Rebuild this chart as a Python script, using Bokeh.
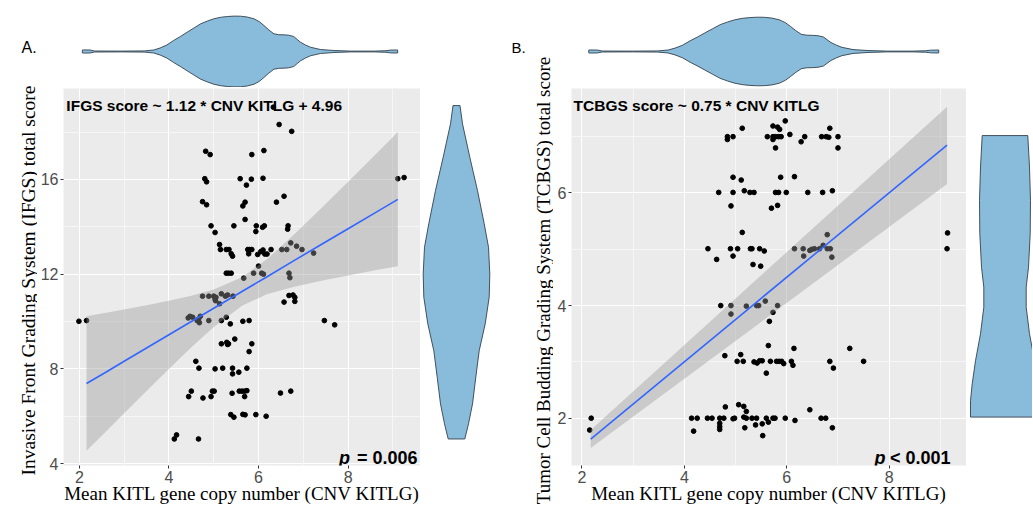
import numpy as np
from bokeh.plotting import figure
from bokeh.layouts import row, column
from bokeh.models import Range1d, FixedTicker, Label
from bokeh.embed import file_html
from bokeh.resources import INLINE

# ---------------- data ----------------
cnv_a = [6.33, 6.46, 6.74, 4.82, 4.92, 5.85, 6.12, 4.80, 4.84, 5.59, 5.73, 5.84, 6.10, 4.75, 4.84, 5.65,
         5.70, 6.40, 6.57, 4.94, 5.03, 5.45, 5.70, 5.95, 5.94, 6.09, 6.13, 6.66, 6.65, 5.13, 5.15, 5.28,
         5.34, 5.39, 5.42, 5.76, 5.80, 5.85, 5.78, 5.98, 6.05, 6.10, 6.14, 6.19, 6.28, 6.52, 6.63, 6.72,
         6.85, 6.97, 7.23, 9.11, 9.25, 5.28, 5.33, 5.39, 6.00, 5.89, 6.07, 6.11, 5.67, 6.68, 6.70,
         4.75, 4.89, 5.00, 5.03, 5.05, 5.04, 5.17, 5.26, 5.31, 5.13, 5.43, 6.57, 6.68, 6.77, 6.81, 6.81,
         4.43, 4.47, 4.53, 4.63, 4.68, 4.70, 4.66, 4.89, 5.17, 5.28, 5.37, 5.65, 5.79, 1.99, 2.16, 7.47,
         7.70, 5.17, 5.29, 5.31, 5.33, 5.47, 5.85, 5.79, 4.60, 4.67, 5.03, 5.20, 5.42, 5.42, 5.56, 5.74,
         4.50, 4.44, 4.76, 4.94, 4.97, 5.01, 5.41, 5.57, 5.63, 5.69, 5.74, 5.69, 6.49, 6.72, 5.38, 5.45,
         5.65, 5.70, 5.94, 6.17, 4.12, 4.17, 4.66]
ifgs = [19.05, 18.32, 18.03, 17.19, 17.05, 17.05, 17.22, 16.03, 15.90, 16.03, 15.76, 16.01, 16.05, 15.06,
        14.93, 14.88, 15.04, 15.04, 15.29, 14.04, 13.76, 14.04, 14.31, 14.04, 13.80, 13.98, 14.04, 14.04,
        13.90, 13.25, 13.04, 13.04, 13.04, 12.86, 12.76, 13.04, 13.04, 13.04, 12.86, 12.83, 12.95, 13.02,
        12.85, 12.85, 13.04, 13.04, 13.04, 13.32, 13.18, 13.04, 12.89, 16.03, 16.08, 12.04, 12.04, 12.04,
        12.34, 12.04, 12.04, 12.00, 11.83, 12.04, 11.85,
        11.07, 11.07, 11.07, 10.95, 11.02, 10.88, 11.17, 11.07, 11.12, 10.75, 11.07, 10.82, 11.10, 11.12,
        11.02, 10.85, 10.15, 10.22, 10.18, 10.04, 9.95, 10.22, 10.10, 10.04, 10.04, 10.18, 9.90, 10.01,
        10.04, 10.01, 10.04, 10.04, 9.86, 9.06, 9.12, 9.03, 9.06, 9.26, 9.06, 8.73, 8.32, 8.03, 8.00,
        8.03, 8.03, 7.79, 7.86, 8.03, 7.06, 6.83, 6.77, 6.83, 7.06, 7.06, 6.97, 7.06, 7.06, 7.06, 7.08,
        6.83, 6.98, 7.06, 6.07, 5.96, 6.08, 6.06, 6.07, 6.00, 5.04, 5.21, 5.04]

cnv_b = [5.97, 5.73, 5.82, 5.86, 5.13, 6.84, 4.84, 4.84, 4.95, 5.62, 5.73, 5.73, 5.78, 5.84, 5.89, 5.78,
         6.06, 6.28, 6.35, 6.68, 6.77, 6.82, 7.00, 7.00, 4.95, 5.11, 4.67, 4.95, 5.17, 5.28, 5.36, 4.91,
         5.70, 5.78, 5.84, 5.88, 5.82, 5.99, 6.15, 6.41, 6.70, 6.89, 5.13, 4.46, 4.63, 4.90, 4.95, 5.04,
         5.29, 5.32, 5.34, 5.47, 5.49, 5.56, 6.15, 6.32, 6.33, 6.45, 6.49, 6.54, 6.64, 6.71, 6.79, 6.79,
         6.85, 6.88, 9.14, 9.13,
         4.71, 4.91, 4.91, 5.21, 5.41, 5.45, 5.58, 5.73, 5.66, 5.82, 5.64, 6.14, 4.79, 5.10, 5.03, 5.15,
         5.36, 5.42, 5.47, 5.52, 5.60, 5.68, 5.80, 5.85, 5.90, 5.94, 6.09, 6.12, 6.84, 6.91, 7.23, 7.50,
         2.18, 2.15, 4.14, 4.25, 4.18, 4.45, 4.54, 4.69, 4.77, 4.69, 4.69, 4.69, 4.80, 4.95, 4.98, 5.06,
         5.16, 5.21, 5.16, 5.21, 5.32, 5.41, 5.18, 5.39, 5.52, 5.53, 5.60, 5.64, 5.73, 5.77, 5.97, 6.16,
         6.45, 6.67, 6.76, 6.89]
tcbgs = [7.28, 7.19, 7.17, 7.13, 7.15, 7.15, 7.00, 6.95, 7.00, 7.00, 7.00, 6.95, 7.00, 7.00, 7.00, 6.80,
         7.04, 6.91, 7.00, 7.00, 7.00, 6.99, 7.00, 6.80, 6.28, 6.23, 6.01, 6.01, 6.04, 6.01, 6.01, 5.77,
         5.73, 6.01, 6.01, 6.28, 5.78, 6.01, 6.29, 6.01, 6.01, 6.04, 5.30, 5.01, 4.82, 5.01, 4.88, 5.01,
         5.01, 5.01, 4.73, 5.01, 4.70, 4.97, 5.01, 5.01, 4.88, 4.98, 5.00, 5.01, 5.01, 5.07, 5.26, 5.01,
         5.01, 4.86, 5.29, 5.01,
         4.00, 4.00, 3.85, 3.99, 4.00, 4.00, 4.08, 3.88, 3.72, 4.00, 3.29, 3.24, 3.11, 3.13, 3.01, 3.01,
         3.00, 2.98, 3.02, 3.02, 2.80, 3.01, 3.01, 3.01, 3.01, 2.97, 3.01, 2.94, 3.01, 2.89, 3.24, 3.01,
         2.00, 1.79, 2.00, 2.00, 1.77, 2.00, 2.00, 2.00, 2.00, 1.91, 1.85, 1.80, 2.20, 1.99, 2.00, 2.24,
         2.21, 2.12, 2.02, 2.00, 2.00, 2.00, 1.83, 1.88, 1.90, 1.69, 2.00, 1.93, 2.00, 2.00, 2.00, 1.96,
         2.15, 2.00, 2.00, 1.83]

# fitted lines and confidence bands
fit_a_x = [2.16, 2.6, 3.0, 3.5, 4.0, 4.5, 5.0, 5.64, 6.2, 6.8, 7.4, 8.0, 8.6, 9.11]
fit_a_y = [7.38, 7.87, 8.32, 8.88, 9.44, 10.00, 10.56, 11.28, 11.90, 12.58, 13.25, 13.92, 14.59, 15.16]
fit_a_lo = [4.54, 5.37, 6.13, 7.07, 8.00, 8.91, 9.77, 10.68, 11.16, 11.47, 11.72, 11.94, 12.16, 12.33]
fit_a_hi = [10.22, 10.37, 10.51, 10.69, 10.88, 11.09, 11.35, 11.88, 12.65, 13.68, 14.78, 15.90, 17.03, 18.00]
fit_b_x = [2.17, 5.5, 9.13]
fit_b_y = [1.63, 4.13, 6.85]
fit_b_lo = [1.47, 3.71, 6.16]
fit_b_hi = [1.79, 4.54, 7.53]

# violin profiles (position, half-width)
vx_pos = [2.13, 2.16, 2.30, 2.40, 3.00, 3.50, 3.71, 3.85, 4.00, 4.15, 4.30, 4.45, 4.60, 4.75, 4.90, 5.04,
          5.19, 5.34, 5.49, 5.63, 5.78, 5.93, 6.05, 6.15, 6.26, 6.37, 6.48, 6.59, 6.70, 6.81, 6.90, 6.96,
          7.07, 7.18, 7.40, 7.70, 8.07, 8.60, 8.85, 8.95, 9.05, 9.11]
vx_w = [1.5, 1.6, 1.5, 0.5, 0.4, 0.6, 1.5, 3.5, 6.5, 11.0, 15.0, 19.3, 23.5, 27.7, 30.5, 32.7,
        34.2, 35.0, 35.4, 35.3, 34.5, 32.7, 29.8, 26.0, 21.5, 17.7, 16.8, 16.7, 16.3, 15.0, 11.5, 9.3,
        6.5, 4.3, 2.0, 1.0, 0.4, 0.4, 0.8, 1.4, 1.5, 1.5]
vya_pos = [5.04, 5.68, 6.52, 7.65, 8.77, 9.90, 11.03, 12.01, 13.14, 14.13, 15.53, 16.94, 18.35, 19.12]
vya_w = [8.3, 12.0, 16.0, 19.3, 22.7, 28.7, 32.7, 33.3, 32.0, 27.7, 21.0, 13.3, 6.0, 3.5]
vyb_pos = [2.02, 2.31, 2.61, 3.02, 3.50, 3.97, 4.33, 4.68, 5.28, 5.87, 6.46, 7.02]
vyb_w = [34.5, 34.5, 32.8, 29.5, 24.5, 21.2, 21.2, 23.5, 25.2, 25.5, 24.5, 22.8]

VFILL = "#89BCDA"
VLINE = "#33414D"


def bare(w, h, xr, yr, top=0, bottom=0):
    f = figure(width=w, height=h, x_range=xr, y_range=yr, toolbar_location=None,
               output_backend="svg", x_axis_type=None, y_axis_type=None,
               min_border=0, min_border_left=0, min_border_right=0,
               min_border_top=top, min_border_bottom=bottom)
    f.grid.visible = False
    f.outline_line_color = None
    f.background_fill_color = "white"
    f.border_fill_color = "white"
    return f


def violin_h(f, pos, w):
    w = np.array(w) / max(w)
    xs = list(pos) + list(pos[::-1])
    ys = list(w) + list(-w[::-1])
    f.patch(xs, ys, fill_color=VFILL, line_color=VLINE, line_width=0.9)


def violin_v(f, pos, w):
    w = np.array(w) / max(w)
    ys = list(pos) + list(pos[::-1])
    xs = list(w) + list(-w[::-1])
    f.patch(xs, ys, fill_color=VFILL, line_color=VLINE, line_width=0.9)


def txt(f, x, y, s, size, style="normal", align="left", font="Liberation Sans", angle=0):
    f.add_layout(Label(x=x, y=y, text=s, text_font=font, text_font_size=size,
                       text_font_style=style, text_align=align, text_baseline="alphabetic",
                       text_color="black", angle=angle, angle_units="deg"))


H_TOP = 87
H_MAIN = 423


def scatter_fig(w, left, xr, yr, xt, xm, yt, ym):
    f = figure(width=w, height=H_MAIN, x_range=xr, y_range=yr, toolbar_location=None,
               output_backend="svg", min_border_left=left, min_border_right=0,
               min_border_top=1, min_border_bottom=45)
    f.background_fill_color = "#EBEBEB"
    f.border_fill_color = "white"
    f.outline_line_color = None
    f.xaxis.ticker = FixedTicker(ticks=xt, minor_ticks=xm)
    f.yaxis.ticker = FixedTicker(ticks=yt, minor_ticks=ym)
    for ax in f.axis:
        ax.axis_line_color = None
        ax.major_tick_line_color = "#333333"
        ax.major_tick_out = 3
        ax.major_tick_in = 0
        ax.minor_tick_line_color = None
        ax.major_label_text_font = "Liberation Sans"
        ax.major_label_text_font_size = "16px"
        ax.major_label_text_color = "#4D4D4D"
        ax.major_label_standoff = 1
    f.xaxis.axis_label = "Mean KITL gene copy number (CNV KITLG)"
    f.xaxis.axis_label_text_font = "Liberation Serif"
    f.xaxis.axis_label_text_font_size = "19px"
    f.xaxis.axis_label_text_font_style = "normal"
    f.xaxis.axis_label_text_color = "black"
    f.xaxis.axis_label_standoff = -3
    f.grid.grid_line_color = "white"
    f.grid.grid_line_width = 1.1
    f.grid.minor_grid_line_color = "white"
    f.grid.minor_grid_line_width = 0.55
    return f


# ---------------- panel A ----------------
la = bare(37, H_TOP + H_MAIN, Range1d(0, 37), Range1d(H_TOP + H_MAIN, 0))
txt(la, 21, 47, "A.", "16px")
txt(la, 27.6, 280, "Invasive Front Grading System (IFGS) total score", "19.5px",
    align="center", font="Liberation Serif", angle=90)

tva = bare(463, H_TOP, Range1d(1.137, 11.387), Range1d(-1.017, 1.441))
violin_h(tva, vx_pos, vx_w)

sa = scatter_fig(383, 23, Range1d(1.646, 9.616), Range1d(3.92, 19.84),
                 [2, 4, 6, 8], [3, 5, 7, 9], [4, 8, 12, 16], [6, 10, 14, 18])
sa.scatter(cnv_a, ifgs, size=4.7, color="black")
sa.varea(x=fit_a_x, y1=fit_a_lo, y2=fit_a_hi, fill_color="#999999", fill_alpha=0.4)
sa.line(fit_a_x, fit_a_y, line_color="#3366FF", line_width=1.6)
txt(sa, 1.71, 19.12, "IFGS score ~ 1.12 * CNV KITLG + 4.96", "15.5px", style="bold")
txt(sa, 8.04, 4.25, "p", "18px", style="bold italic", align="right")
txt(sa, 9.55, 4.25, "= 0.006", "18px", style="bold", align="right")

rva = bare(80, H_MAIN, Range1d(-1.081, 1.321), sa.y_range, top=1, bottom=45)
violin_v(rva, vya_pos, vya_w)

panel_a = row(la, column(tva, row(sa, rva)))

# ---------------- panel B ----------------
lb = bare(53, H_TOP + H_MAIN, Range1d(500, 553), Range1d(H_TOP + H_MAIN, 0))
txt(lb, 511, 47, "B.", "15px")
txt(lb, 542.6, 280, "Tumor Cell Budding Grading System (TCBGS) total score", "19px",
    align="center", font="Liberation Serif", angle=90)

tvb = bare(479, H_TOP, Range1d(1.426, 10.98), Range1d(-1.0496, 1.487))
violin_h(tvb, vx_pos, vx_w)

sb = scatter_fig(413, 18, Range1d(1.795, 9.51), Range1d(1.16, 7.856),
                 [2, 4, 6, 8], [3, 5, 7, 9], [2, 4, 6], [3, 5, 7])
sb.scatter(cnv_b, tcbgs, size=4.7, color="black")
sb.varea(x=fit_b_x, y1=fit_b_lo, y2=fit_b_hi, fill_color="#999999", fill_alpha=0.4)
sb.line(fit_b_x, fit_b_y, line_color="#3366FF", line_width=1.6)
txt(sb, 1.835, 7.554, "TCBGS score ~ 0.75 * CNV KITLG", "15.5px", style="bold")
txt(sb, 7.93, 1.30, "p", "18px", style="bold italic", align="right")
txt(sb, 9.197, 1.30, "< 0.001", "18px", style="bold", align="right")

rvb = bare(66, H_MAIN, Range1d(-1.116, 0.797), sb.y_range, top=1, bottom=45)
violin_v(rvb, vyb_pos, vyb_w)

panel_b = row(lb, column(tvb, row(sb, rvb)))

layout = row(panel_a, panel_b)

open("out.html", "w").write(file_html(layout, INLINE))
